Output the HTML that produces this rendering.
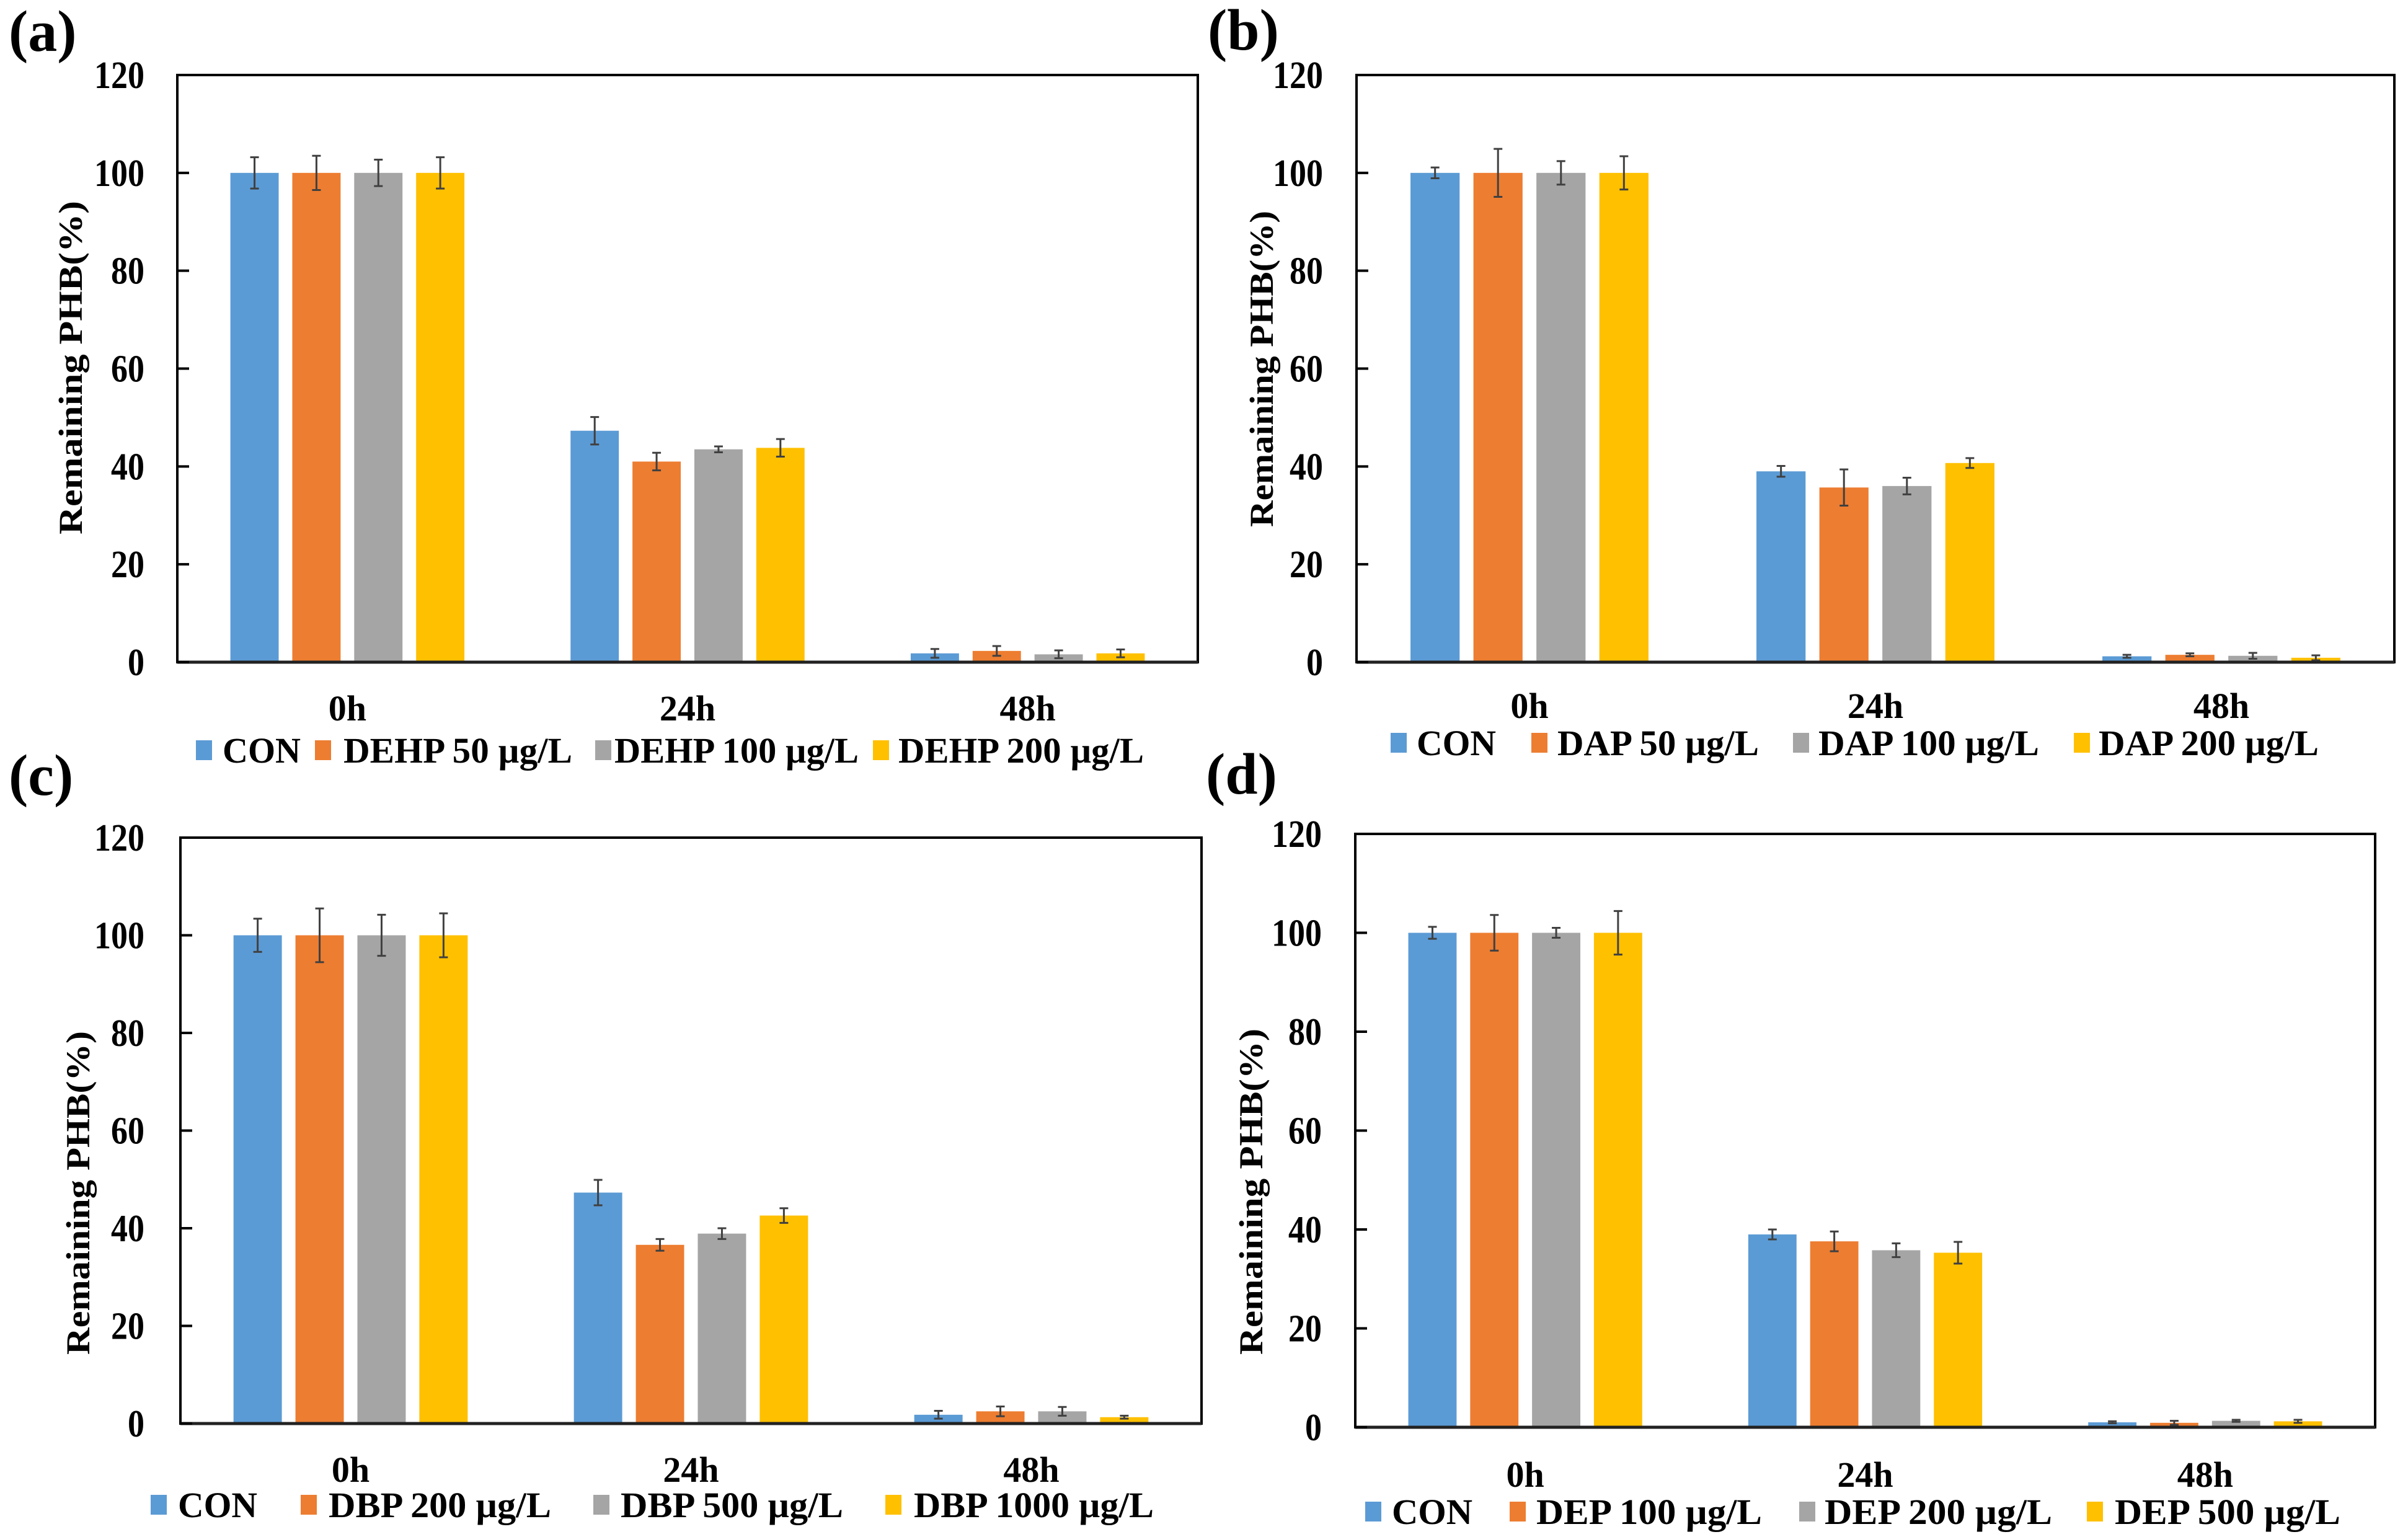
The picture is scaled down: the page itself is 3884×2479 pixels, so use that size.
<!DOCTYPE html>
<html><head><meta charset="utf-8"><style>
html,body{margin:0;padding:0;background:#fff;}
svg{display:block;}
text{font-family:"Liberation Serif",serif;font-weight:bold;fill:#000;}
</style></head><body>
<svg id="fig" width="3884" height="2479" viewBox="0 0 3884 2479" xmlns="http://www.w3.org/2000/svg"></svg>
<script>
// ---- data ----
const categories = ["0h", "24h", "48h"];
const yTicks = [0, 20, 40, 60, 80, 100, 120];
const seriesColors = ["#5B9BD5", "#ED7D31", "#A5A5A5", "#FFC000"];
const namesA = ["CON", "DEHP 50 µg/L", "DEHP 100 µg/L", "DEHP 200 µg/L"];
const namesB = ["CON", "DAP 50 µg/L", "DAP 100 µg/L", "DAP 200 µg/L"];
const namesC = ["CON", "DBP 200 µg/L", "DBP 500 µg/L", "DBP 1000 µg/L"];
const namesD = ["CON", "DEP 100 µg/L", "DEP 200 µg/L", "DEP 500 µg/L"];
// values[series][category]
const valuesA = [[100, 47.3, 1.8], [100, 41.0, 2.3], [100, 43.5, 1.6], [100, 43.8, 1.8]];
const errorsA = [[3.2, 2.8, 0.9], [3.5, 1.8, 1.0], [2.7, 0.6, 0.8], [3.2, 1.8, 0.8]];
const valuesB = [[100, 39.0, 1.2], [100, 35.7, 1.5], [100, 36.0, 1.3], [100, 40.7, 0.9]];
const errorsB = [[1.1, 1.1, 0.3], [4.9, 3.7, 0.3], [2.4, 1.7, 0.6], [3.4, 1.0, 0.5]];
const valuesC = [[100, 47.3, 1.8], [100, 36.6, 2.5], [100, 38.9, 2.5], [100, 42.6, 1.3]];
const errorsC = [[3.4, 2.6, 0.8], [5.5, 1.2, 1.0], [4.2, 1.1, 0.9], [4.5, 1.5, 0.3]];
const valuesD = [[100, 39.0, 1.0], [100, 37.6, 0.9], [100, 35.8, 1.3], [100, 35.3, 1.2]];
const errorsD = [[1.2, 1.0, 0.2], [3.6, 2.0, 0.4], [1.0, 1.4, 0.2], [4.4, 2.2, 0.3]];

// ---- layout ----
const panels = [
 {id:"a", names:namesA, vals:valuesA, errs:errorsA, L:286, R:1932, T:121, B:1068, tickR:233,
  lab:[14,82], ttl:[112,593,538], xlabY:1162, legY:1210,
  leg:[[316,359,126],[508,554,369],[960,991,394],[1408,1449,396]]},
 {id:"b", names:namesB, vals:valuesB, errs:errorsB, L:2188, R:3862, T:121, B:1068, tickR:2134,
  lab:[1948,80], ttl:[2033,595,510], xlabY:1158, legY:1198,
  leg:[[2243,2285,128],[2470,2512,325],[2892,2933,356],[3345,3385,355]]},
 {id:"c", names:namesC, vals:valuesC, errs:errorsC, L:291, R:1938, T:1351, B:2296, tickR:233,
  lab:[14,1282], ttl:[124,1924,522], xlabY:2390, legY:2427,
  leg:[[243,287,128],[485,530,359],[957,1001,359],[1428,1474,387]]},
 {id:"d", names:namesD, vals:valuesD, errs:errorsD, L:2186, R:3831, T:1345, B:2302, tickR:2132,
  lab:[1945,1280], ttl:[2016,1922,526], xlabY:2398, legY:2438,
  leg:[[2202,2245,130],[2435,2478,364],[2902,2943,367],[3366,3411,364]]}
];

const NS = "http://www.w3.org/2000/svg";
const svg = document.getElementById("fig");
function mk(tag, attrs, parent){
  const e = document.createElementNS(NS, tag);
  for (const k in attrs) e.setAttribute(k, attrs[k]);
  (parent||svg).appendChild(e);
  return e;
}

panels.forEach(p => {
  const g = mk("g", {});
  
  
  const yScale = v => p.B - (v / 120) * (p.B - p.T);
  const cw = (p.R - p.L) / categories.length;
  const xCenter = i => p.L + cw * (i + 0.5);
  const bw = cw * 0.142, pitch = cw * 0.182;

  const lab = mk("text", {x:p.lab[0], y:p.lab[1], "font-size":94}, g);
  lab.textContent = "(" + p.id + ")";
  
  

  p.vals.forEach((series, s) => {
    series.forEach((v, c) => {
      const cx = xCenter(c) + (s - 1.5) * pitch;
      const y = yScale(v);
      const r = mk("rect", {x:cx - bw/2, y:y, width:bw, height:p.B - y, fill:seriesColors[s]}, g);
      
      
      const e = p.errs[s][c];
      const y1 = yScale(v + e), y2 = yScale(v - e);
      const eb = mk("path", {d:`M${cx},${y1}V${y2}M${cx-7},${y1}H${cx+7}M${cx-7},${y2}H${cx+7}`,
        stroke:"#404040", "stroke-width":3, fill:"none"}, g);
      
      
    });
  });

  const fr = mk("rect", {x:p.L, y:p.T, width:p.R-p.L, height:p.B-p.T, fill:"none", stroke:"#000", "stroke-width":4}, g);
  
  
  const ax = mk("line", {x1:p.L, x2:p.R, y1:p.B, y2:p.B, stroke:"#222", "stroke-width":5}, g);
  
  

  yTicks.forEach(t => {
    const tm = mk("line", {x1:p.L, x2:p.L + 19, y1:yScale(t), y2:yScale(t), stroke:"#000", "stroke-width":4}, g);
    
    
    const str = String(t);
    const tx = mk("text", {x:p.tickR, y:yScale(t) + 21, "font-size":62, "text-anchor":"end",
      textLength:27 * str.length, lengthAdjust:"spacingAndGlyphs"}, g);
    tx.textContent = str;
    
    
  });
  categories.forEach((c, i) => {
    const tx = mk("text", {x:xCenter(i), y:p.xlabY, "font-size":58, "text-anchor":"middle"}, g);
    tx.textContent = c;
    
    
  });
  const tt = mk("text", {x:0, y:0, "font-size":54, "text-anchor":"middle",
    transform:`translate(${p.ttl[0]+20},${p.ttl[1]}) rotate(-90)`,
    textLength:p.ttl[2], lengthAdjust:"spacingAndGlyphs"}, g);
  tt.textContent = "Remaining  PHB(%)";
  
  

  p.names.forEach((n, s) => {
    const L = p.leg[s];
    const sq = mk("rect", {x:L[0], y:p.legY - 16, width:26, height:32, fill:seriesColors[s]}, g);
    
    
    const tx = mk("text", {x:L[1], y:p.legY + 20, "font-size":58, textLength:L[2], lengthAdjust:"spacingAndGlyphs"}, g);
    tx.textContent = n;
    
    
  });
});
</script>
</body></html>
